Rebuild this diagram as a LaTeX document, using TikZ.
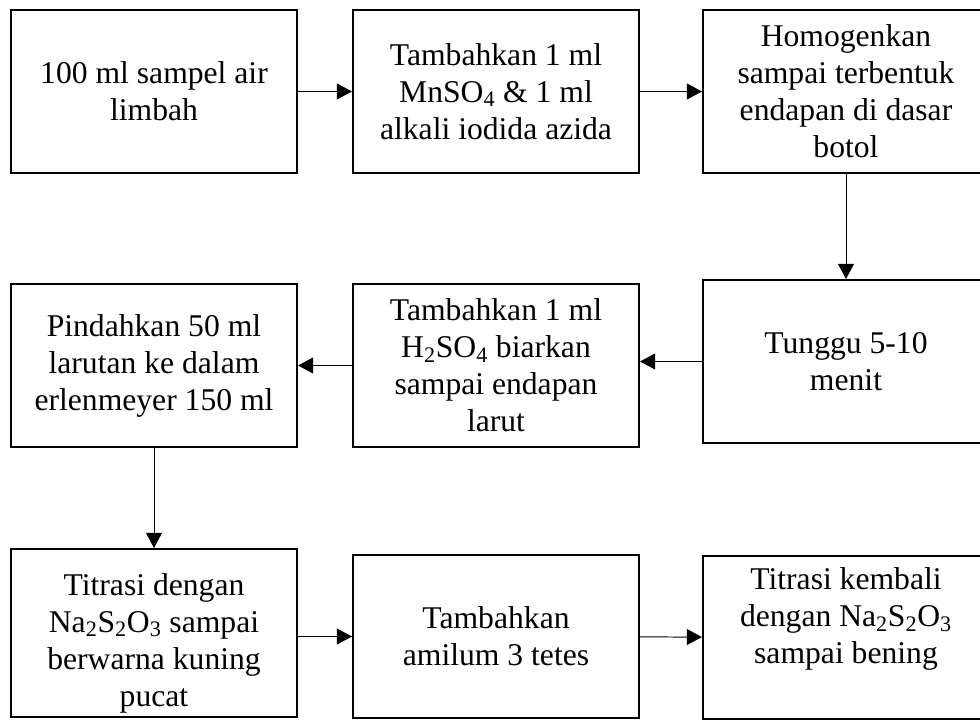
\documentclass[tikz,border=0pt]{standalone}
\usepackage{fontspec}
\setmainfont{Liberation Serif}
\usetikzlibrary{arrows.meta}

\begin{document}
\begin{tikzpicture}[
    x=0.025cm,
    y=-0.025cm,
    isi/.style={
        align=center,
        inner sep=0pt,
        font=\fontsize{22.5}{26.3}\selectfont
    },
    kotak/.style={
        isi,
        draw=black,
        line width=1.4pt,
        minimum width=7.15cm,
        minimum height=4.075cm
    },
    panah/.style={
        line width=0.7pt,
        -{Triangle[length=0.38cm,width=0.4cm]}
    }
]

\useasboundingbox (0,0) rectangle (980,720);

\node[kotak] (sampel) at (154,91.5)
{100 ml sampel air\\
 limbah};

\node[kotak] (mnso) at (496,91.5)
{Tambahkan 1 ml\\
 MnSO\textsubscript{4} \& 1 ml\\
 alkali iodida azida};

\node[kotak] (homogen) at (846,91.5)
{Homogenkan\\
 sampai terbentuk\\
 endapan di dasar\\
 botol};

\node[kotak] (tunggu) at (846,361.5)
{Tunggu 5-10\\
 menit};

\node[kotak] (hso) at (496,365.5)
{Tambahkan 1 ml\\
 H\textsubscript{2}SO\textsubscript{4} biarkan\\
 sampai endapan\\
 larut};

\node[kotak] (pindah) at (154,365.5)
{Pindahkan 50 ml\\
 larutan ke dalam\\
 erlenmeyer 150 ml};

\node[kotak, minimum height=4.2cm] (titrasi) at (154,633) {};
\node[isi] (titrasiisi) at (154,643)
{Titrasi dengan\\
 Na\textsubscript{2}S\textsubscript{2}O\textsubscript{3} sampai\\
 berwarna kuning\\
 pucat};

\node[kotak] (amilum) at (496,636.5)
{Tambahkan\\
 amilum 3 tetes};

\node[kotak] (kembali) at (846,637.5) {};
\node[isi] (kembaliisi) at (846,619)
{Titrasi kembali\\
 dengan Na\textsubscript{2}S\textsubscript{2}O\textsubscript{3}\\
 sampai bening};

\draw[panah] (sampel) -- (mnso);
\draw[panah] (mnso) -- (homogen);
\draw[panah] (homogen) -- (tunggu);
\draw[panah] (tunggu.west) -- (tunggu.west -| hso.east);
\draw[panah] (hso) -- (pindah);
\draw[panah] (pindah) -- (titrasi);
\draw[panah] (amilum.west -| titrasi.east) -- (amilum.west);
\draw[panah] (amilum) -- (kembali);

\end{tikzpicture}
\end{document}
